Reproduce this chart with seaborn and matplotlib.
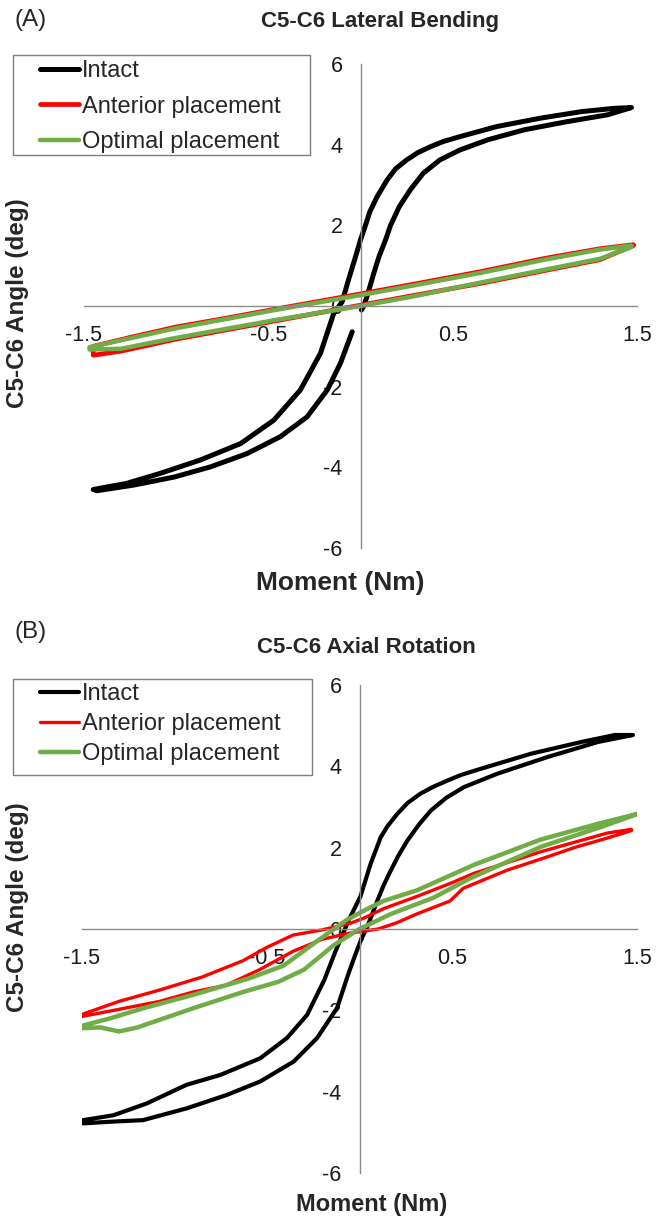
import numpy as np
import pandas as pd
import matplotlib
matplotlib.use("Agg")
import matplotlib.pyplot as plt
from matplotlib.patches import Rectangle
from matplotlib.lines import Line2D
import seaborn as sns

# ---------------- data ----------------
series_names = ["Intact", "Anterior placement", "Optimal placement"]
series_colors = ["#000000", "#FF0000", "#70AD47"]

xtick_vals = [-1.5, -0.5, 0.5, 1.5]
xtick_labels = ["-1.5", "-0.5", "0.5", "1.5"]
ytick_vals = [-6, -4, -2, 0, 2, 4, 6]
ytick_labels = ["-6", "-4", "-2", "0", "2", "4", "6"]

# Panel A: C5-C6 Lateral Bending
a_intact_m = [0.005, 0.018, 0.04, 0.072, 0.1, 0.136, 0.163, 0.21, 0.27, 0.34, 0.43, 0.54, 0.69, 0.89, 1.12, 1.34, 1.47,
              1.375, 1.2, 0.98, 0.74, 0.54, 0.45, 0.38, 0.31, 0.25, 0.19, 0.145, 0.09, 0.05, 0.027, 0.0, -0.027,
              -0.065, -0.1, -0.145, -0.217, -0.326, -0.47, -0.65, -0.87, -1.087, -1.27, -1.45,
              -1.43, -1.23, -1.01, -0.815, -0.616, -0.435, -0.29, -0.18, -0.109, -0.045]
a_intact_deg = [-0.1, 0.0, 0.31, 0.81, 1.22, 1.64, 2.0, 2.46, 2.88, 3.29, 3.62, 3.87, 4.12, 4.37, 4.57, 4.74, 4.92,
                4.9, 4.82, 4.66, 4.45, 4.2, 4.08, 3.95, 3.8, 3.62, 3.4, 3.13, 2.71, 2.33, 2.0, 1.64, 1.22,
                0.65, 0.1, -0.18, -1.17, -2.08, -2.83, -3.41, -3.82, -4.15, -4.4, -4.55,
                -4.58, -4.44, -4.24, -3.99, -3.66, -3.24, -2.75, -2.08, -1.42, -0.64]

a_anterior_m = [1.48, 1.3, 1.0, 0.65, 0.3, 0.0, -0.44, -0.75, -1.0, -1.25, -1.45,
                -1.45, -1.3, -1.0, -0.44, 0.0, 0.3, 0.65, 1.0, 1.3, 1.48]
a_anterior_deg = [1.52, 1.42, 1.18, 0.85, 0.55, 0.3, -0.06, -0.32, -0.52, -0.78, -1.0,
                  -1.22, -1.12, -0.82, -0.35, 0.02, 0.27, 0.56, 0.88, 1.15, 1.5]

a_optimal_m = [1.47, 1.3, 1.0, 0.65, 0.3, 0.0, -0.44, -0.75, -1.0, -1.25, -1.47,
               -1.47, -1.3, -1.0, -0.44, 0.0, 0.3, 0.65, 1.0, 1.3, 1.47]
a_optimal_deg = [1.5, 1.4, 1.15, 0.82, 0.52, 0.27, -0.08, -0.34, -0.55, -0.8, -1.02,
                 -1.08, -1.06, -0.79, -0.33, 0.0, 0.25, 0.58, 0.9, 1.17, 1.46]

# Panel B: C5-C6 Axial Rotation
b_intact_m = [0.01, 0.04, 0.096, 0.13, 0.168, 0.21, 0.258, 0.32, 0.385, 0.47, 0.565, 0.746, 1.017, 1.29, 1.478,
              1.38, 1.2, 0.927, 0.656, 0.55, 0.475, 0.4, 0.33, 0.26, 0.204, 0.15, 0.114, 0.06, 0.005, -0.06, -0.13,
              -0.19, -0.283, -0.392, -0.537, -0.753, -0.934, -1.15, -1.33, -1.494,
              -1.494, -1.35, -1.17, -0.934, -0.717, -0.537, -0.356, -0.229, -0.121, -0.06, -0.02, 0.01]
b_intact_deg = [-0.25, 0.03, 0.69, 1.07, 1.43, 1.8, 2.17, 2.56, 2.91, 3.23, 3.49, 3.82, 4.23, 4.6, 4.77,
                4.77, 4.6, 4.31, 3.94, 3.79, 3.65, 3.5, 3.33, 3.1, 2.83, 2.52, 2.25, 1.6, 0.8, 0.2, -0.55,
                -1.25, -2.11, -2.68, -3.18, -3.59, -3.83, -4.29, -4.58, -4.7,
                -4.78, -4.74, -4.7, -4.41, -4.08, -3.75, -3.26, -2.68, -1.94, -1.1, -0.6, -0.25]

b_anterior_m = [1.47, 1.34, 0.98, 0.62, 0.49, 0.31, 0.13, 0.02, -0.05, -0.2, -0.36, -0.5, -0.63, -0.85, -1.08, -1.3, -1.5,
                -1.5, -1.35, -1.08, -0.9, -0.72, -0.54, -0.36, -0.2, -0.05, 0.1, 0.2, 0.31, 0.49, 0.56, 0.8, 1.0, 1.16,
                1.35, 1.47]
b_anterior_deg = [2.45, 2.36, 1.9, 1.37, 1.12, 0.8, 0.5, 0.26, 0.14, -0.02, -0.15, -0.45, -0.78, -1.18, -1.5, -1.78, -2.1,
                  -2.15, -2.02, -1.78, -1.55, -1.38, -1.0, -0.55, -0.25, -0.1, 0.0, 0.15, 0.37, 0.69, 1.0, 1.45, 1.75, 2.0,
                  2.25, 2.42]

b_optimal_m = [1.51, 1.3, 0.98, 0.62, 0.31, 0.13, 0.04, -0.07, -0.23, -0.41, -0.6, -0.9, -1.17, -1.35, -1.5,
               -1.5, -1.4, -1.3, -1.2, -0.9, -0.63, -0.44, -0.3, -0.14, 0.0, 0.17, 0.4, 0.6, 0.98, 1.3, 1.51]
b_optimal_deg = [2.84, 2.6, 2.2, 1.58, 0.95, 0.69, 0.49, 0.22, -0.3, -0.9, -1.22, -1.62, -1.95, -2.2, -2.38,
                 -2.44, -2.42, -2.52, -2.42, -1.95, -1.55, -1.3, -1.0, -0.4, 0.0, 0.37, 0.77, 1.25, 2.02, 2.5, 2.84]

# ---------------- styling ----------------
sns.set_theme(style="white")
plt.rcParams["font.family"] = ["Liberation Sans", "DejaVu Sans"]
plt.rcParams["axes.unicode_minus"] = False

W, H = 657, 1221
fig = plt.figure(figsize=(W / 100, H / 100), dpi=100)
fig.patch.set_facecolor("white")


def fx(px):
    return px / W


def fy(py):
    return 1 - py / H


axis_gray = "#8A8A8A"


def style_axes(ax):
    ax.set_xlim(-1.5, 1.5)
    ax.set_ylim(-6, 6)
    for s in ["top", "right"]:
        ax.spines[s].set_visible(False)
    ax.spines["left"].set_position(("data", 0))
    ax.spines["bottom"].set_position(("data", 0))
    for s in ["left", "bottom"]:
        ax.spines[s].set_color(axis_gray)
        ax.spines[s].set_linewidth(1.0)
    ax.set_xticks(xtick_vals)
    ax.set_xticklabels(xtick_labels)
    ax.set_yticks(ytick_vals)
    ax.set_yticklabels(ytick_labels)
    ax.tick_params(axis="x", direction="out", length=5, width=1.0, color=axis_gray,
                   labelsize=15.5, labelcolor="#1a1a1a", pad=9)
    ax.tick_params(axis="y", direction="out", length=5, width=1.0, color=axis_gray,
                   labelsize=15.5, labelcolor="#1a1a1a", pad=8)
    ax.set_xlabel("")
    ax.set_ylabel("")
    ax.set_facecolor("none")
    ax.grid(False)


def draw_series(ax, m, d, color, lw):
    df = pd.DataFrame({"Moment": m, "Angle": d})
    sns.lineplot(data=df, x="Moment", y="Angle", sort=False, estimator=None, ax=ax,
                 color=color, linewidth=lw, solid_capstyle="round", solid_joinstyle="round",
                 legend=False)


# Panel A
axA = fig.add_axes([fx(84), fy(548), (637 - 84) / W, (548 - 64) / H])
draw_series(axA, a_intact_m, a_intact_deg, series_colors[0], 3.6)
draw_series(axA, a_anterior_m, a_anterior_deg, series_colors[1], 3.4)
draw_series(axA, a_optimal_m, a_optimal_deg, series_colors[2], 3.2)
style_axes(axA)

# Panel B
axB = fig.add_axes([fx(82), fy(1173), (637 - 82) / W, (1173 - 685) / H])
draw_series(axB, b_intact_m, b_intact_deg, series_colors[0], 3.0)
draw_series(axB, b_anterior_m, b_anterior_deg, series_colors[1], 2.4)
draw_series(axB, b_optimal_m, b_optimal_deg, series_colors[2], 3.2)
style_axes(axB)

# Texts
fig.text(fx(14), fy(20), "(A)", fontsize=17.5, ha="left", va="center")
fig.text(fx(380), fy(22), "C5-C6 Lateral Bending", fontsize=16, fontweight="bold", ha="center", va="center")
fig.text(fx(18), fy(303), "C5-C6 Angle (deg)", fontsize=17.5, fontweight="bold", rotation=90, ha="center", va="center")
fig.text(fx(340), fy(583), "Moment (Nm)", fontsize=19, fontweight="bold", ha="center", va="center")

fig.text(fx(14), fy(632), "(B)", fontsize=17.5, ha="left", va="center")
fig.text(fx(366), fy(648), "C5-C6 Axial Rotation", fontsize=16, fontweight="bold", ha="center", va="center")
fig.text(fx(18), fy(907), "C5-C6 Angle (deg)", fontsize=17.5, fontweight="bold", rotation=90, ha="center", va="center")
fig.text(fx(372), fy(1205), "Moment (Nm)", fontsize=17, fontweight="bold", ha="center", va="center")

# Legends
def make_legend(top_px, box, lws, spacing):
    handles = [Line2D([], [], color=c, lw=lw, solid_capstyle="round") for c, lw in zip(series_colors, lws)]
    fig.legend(handles, series_names, loc="upper left", bbox_to_anchor=(fx(40), fy(top_px)),
               frameon=False, borderpad=0, borderaxespad=0, fontsize=17,
               handlelength=1.65, handletextpad=0.12, labelspacing=spacing)
    x0, y0, x1, y1 = box
    fig.patches.append(Rectangle((fx(x0), fy(y1)), (x1 - x0) / W, (y1 - y0) / H,
                                 transform=fig.transFigure, fill=False,
                                 edgecolor="#7F7F7F", linewidth=1.0))

make_legend(60, (13, 55, 310, 155), [3.6, 3.4, 3.2], 0.58)
make_legend(683, (13, 679, 312, 775), [3.0, 2.4, 3.2], 0.34)

fig.savefig("out.png", dpi=100, facecolor="white")
